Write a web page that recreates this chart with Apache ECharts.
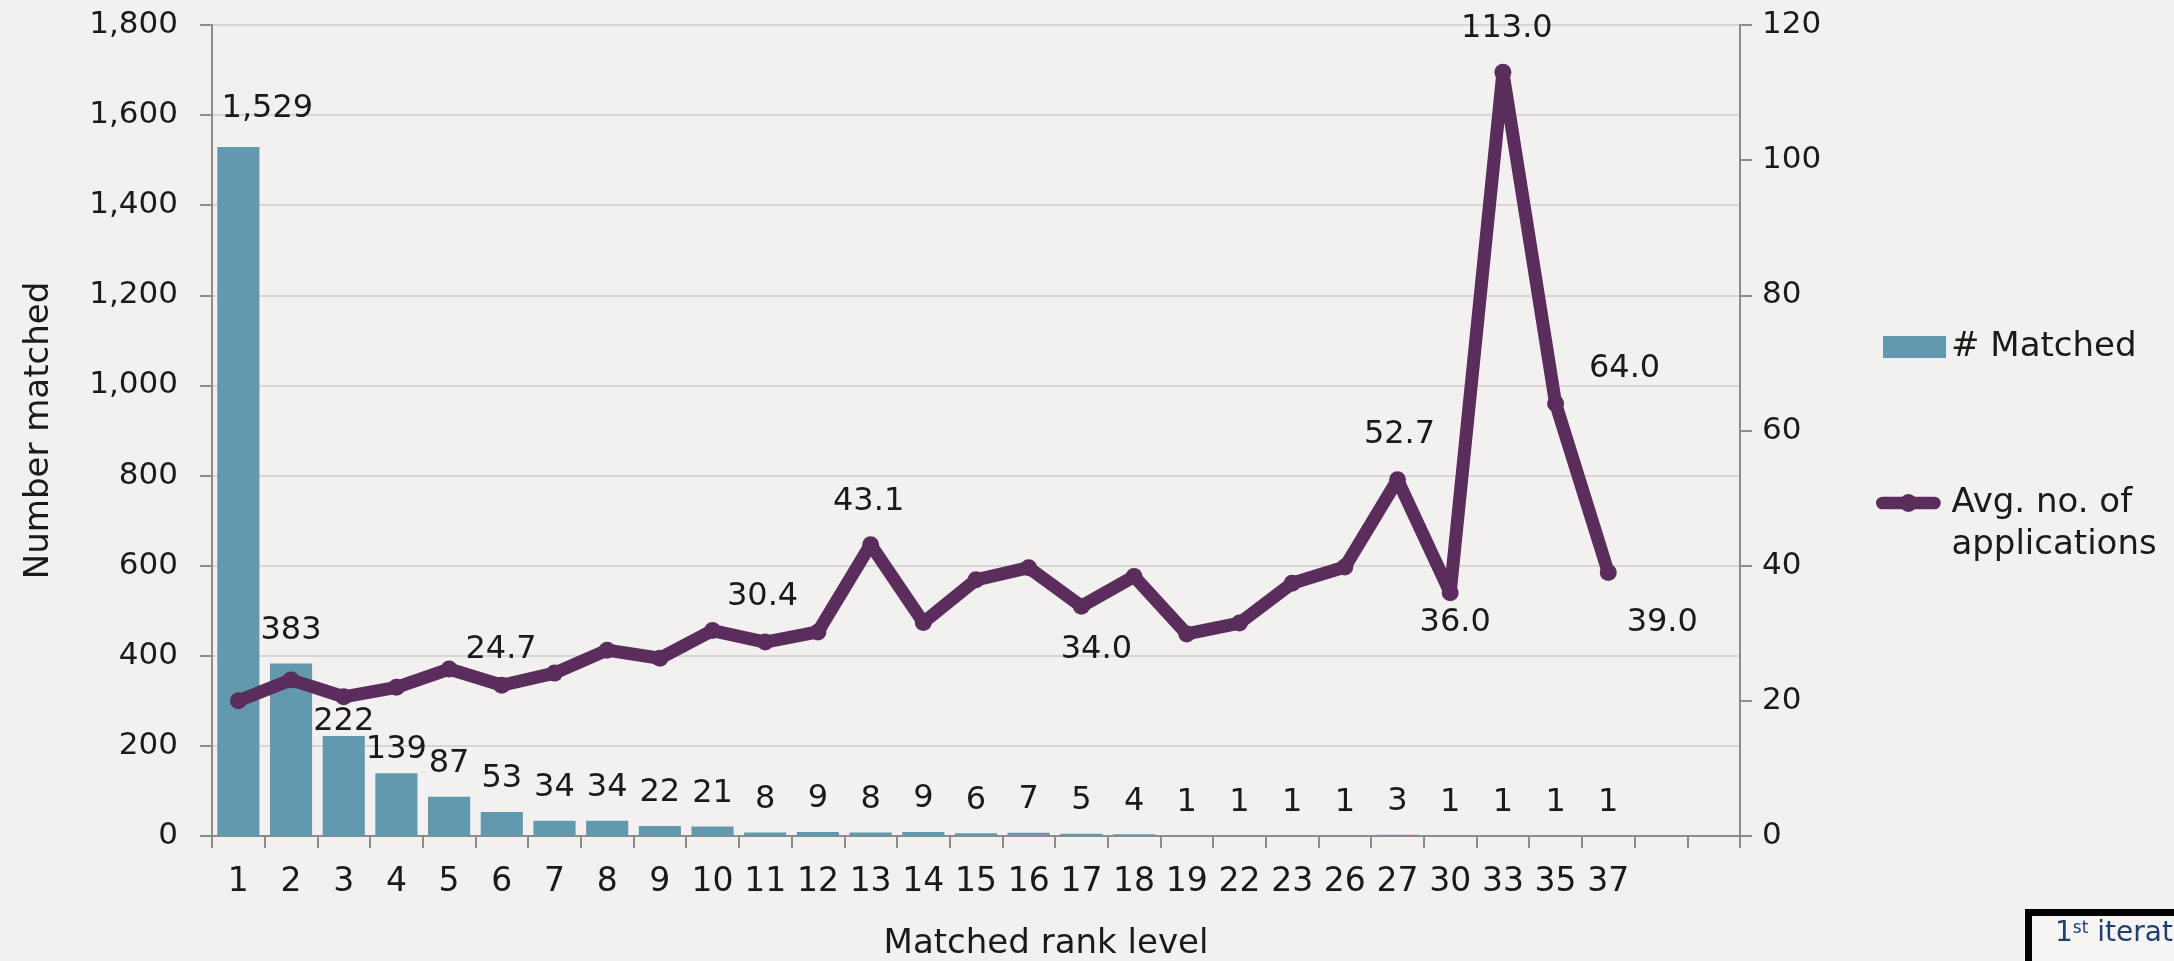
<!DOCTYPE html>
<html>
<head>
<meta charset="utf-8">
<script src="https://cdn.jsdelivr.net/npm/echarts@6/dist/echarts.min.js"></script>
<style>
html,body{margin:0;padding:0;background:#F3F1EF;}
#chart{width:2174px;height:961px;}
</style>
</head>
<body>
<div id="chart"></div>
<script>
// ---- data ----
const categories = ['1','2','3','4','5','6','7','8','9','10','11','12','13','14','15','16','17','18','19','22','23','26','27','30','33','35','37','',''];
const matched = [1529,383,222,139,87,53,34,34,22,21,8,9,8,9,6,7,5,4,1,1,1,1,3,1,1,1,1];
const avgApplications = [20.0,23.1,20.6,22.0,24.7,22.3,24.1,27.5,26.3,30.4,28.7,30.2,43.1,31.6,37.9,39.7,34.0,38.4,29.9,31.5,37.4,39.8,52.7,36.0,113.0,64.0,39.0];
const leftTicks = {min:0, max:1800, interval:200};
const rightTicks = {min:0, max:120, interval:20};
const barName = '# Matched';
const lineName = 'Avg. no. of\napplications';
const xTitle = 'Matched rank level';
const yTitle = 'Number matched';
const noteText = ['1', 'st', ' iteration'];

// ---- styling / placement (not data) ----
const FONT = 'DejaVu Sans';
const barColor = '#6399AE';
const lineColor = '#5B2D5C';
const textColor = '#1a1a1a';
const bg = '#F3F1EF';
const barLabelOffsets = {0:[29,-5], 2:[0,19], 3:[0,9]};
const lineLabelOffsets = {4:[52,-19], 9:[50,-34], 12:[-2,-43], 16:[15,43], 22:[2,-45], 23:[5,30], 24:[4,-44], 25:[69,-35], 26:[54,50]};
const lineIcon = 'path://M9,2 H67 A7,7 0 0 1 67,16 H9 A7,7 0 0 1 9,2 Z M28,9 A10,10 0 1 1 48,9 A10,10 0 1 1 28,9 Z';

const fmt = v => Number(v).toLocaleString('en-US');

const barData = matched.map((v,i) => {
  const o = {value:v};
  if (barLabelOffsets[i]) o.label = {offset: barLabelOffsets[i]};
  return o;
});
const lineData = avgApplications.map((v,i) => {
  const o = {value:v};
  if (lineLabelOffsets[i]) {
    o.label = {show:true, position:'inside', offset: lineLabelOffsets[i]};
  }
  return o;
});

const chart = echarts.init(document.getElementById('chart'), null, {renderer:'canvas'});
chart.setOption({
  backgroundColor: bg,
  animation: false,
  textStyle: {fontFamily: FONT},
  grid: {left:212, right:434, top:25, bottom:125, containLabel:false, outerBoundsMode:'none'},
  legend: [
    {
      data: [{name: barName, icon: 'rect'}], left: 1878, top: 322, orient:'vertical',
      itemWidth: 63, itemHeight: 22, itemGap: 0,
      textStyle: {fontFamily: FONT, fontSize: 34, color: textColor, lineHeight: 40},
      selectedMode:false
    },
    {
      data: [{name: lineName, icon: lineIcon}], left: 1871, top: 435, orient:'vertical',
      itemWidth: 76, itemHeight: 18, itemGap: 0,
      itemStyle: {borderWidth: 0},
      formatter: n => ' \n' + n,
      textStyle: {fontFamily: FONT, fontSize: 34, color: textColor, lineHeight: 42},
      selectedMode:false
    }
  ],
  xAxis: {
    type: 'category', data: categories, boundaryGap: true,
    name: xTitle, nameLocation: 'middle', nameGap: 91,
    nameTextStyle: {fontFamily: FONT, fontSize: 34, color: textColor, padding:[0,0,0,140]},
    axisLine: {lineStyle: {color:'#8C8C8C', width:2}},
    axisTick: {show:true, alignWithLabel:false, length:12, lineStyle:{color:'#8C8C8C', width:2}},
    axisLabel: {interval:0, margin:30, fontFamily: FONT, fontSize: 33, color: textColor}
  },
  yAxis: [
    {
      type: 'value', min: leftTicks.min, max: leftTicks.max, interval: leftTicks.interval,
      name: yTitle, nameLocation:'middle', nameGap: 156,
      nameTextStyle: {fontFamily: FONT, fontSize: 34, color: textColor},
      axisLine: {show:true, lineStyle:{color:'#8C8C8C', width:2}},
      axisTick: {show:true, length:12, lineStyle:{color:'#8C8C8C', width:2}},
      axisLabel: {margin:34, fontFamily: FONT, fontSize: 31, color: textColor, formatter: fmt},
      splitLine: {show:true, lineStyle:{color:'#D6D6D6', width:2}}
    },
    {
      type: 'value', min: rightTicks.min, max: rightTicks.max, interval: rightTicks.interval,
      position: 'right',
      axisLine: {show:true, lineStyle:{color:'#8C8C8C', width:2}},
      axisTick: {show:true, length:12, lineStyle:{color:'#8C8C8C', width:2}},
      axisLabel: {margin:22, fontFamily: FONT, fontSize: 31, color: textColor},
      splitLine: {show:false}
    }
  ],
  series: [
    {
      name: barName, type: 'bar', yAxisIndex: 0, data: barData,
      barCategoryGap: '20%',
      itemStyle: {color: barColor},
      label: {show:true, position:'top', distance:17, fontFamily: FONT, fontSize: 32, color: textColor, formatter: p => fmt(p.value)}
    },
    {
      name: lineName, type: 'line', yAxisIndex: 1, data: lineData,
      symbol: 'circle', symbolSize: 17,
      lineStyle: {color: lineColor, width: 13, join:'round', cap:'round'},
      itemStyle: {color: lineColor},
      label: {show:false, fontFamily: FONT, fontSize: 32, color: textColor, formatter: p => Number(p.value).toFixed(1)},
      z: 5
    }
  ],
  graphic: [
    {
      type: 'rect', left: 2025, top: 909, silent:true,
      shape: {width: 220, height: 100},
      style: {fill: '#F6F5F3', stroke: '#000', lineWidth: 7}
    },
    {
      type: 'text', left: 2055, top: 920, silent:true,
      style: {
        text: '{a|' + noteText[0] + '}{s|' + noteText[1] + '}{a|' + noteText[2] + '}',
        rich: {
          a: {fontFamily: FONT, fontSize: 28, fill: '#1F3F6E'},
          s: {fontFamily: FONT, fontSize: 17, fill: '#1F3F6E', verticalAlign:'top', padding:[0,0,11,0]}
        }
      }
    }
  ]
});
</script>
</body>
</html>
